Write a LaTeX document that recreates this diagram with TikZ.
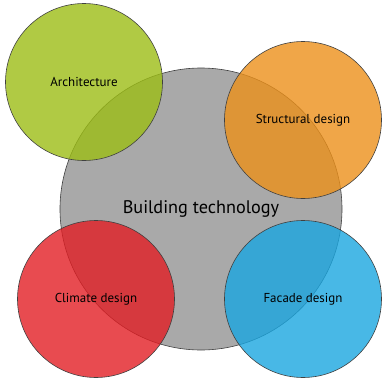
\documentclass[tikz,border=0pt]{standalone}
\usepackage{fontspec}
\setmainfont{PT Sans}
\definecolor{archgreen}{RGB}{156,189,21}
\definecolor{structorange}{RGB}{236,144,26}
\definecolor{climatered}{RGB}{226,30,36}
\definecolor{facadeblue}{RGB}{26,166,224}
\definecolor{hubgray}{RGB}{169,169,169}
\tikzstyle{hub}=[circle, draw=black!75, line width=0.6bp, fill=hubgray, inner sep=0pt, minimum size=282bp, font=\fontsize{18.3}{20}\selectfont]
\tikzstyle{topic}=[circle, draw=black!75, line width=0.6bp, fill opacity=0.8, text opacity=1, inner sep=0pt, minimum size=157bp, font=\fontsize{13}{15}\selectfont]
\newcommand{\topic}{\node[topic]}

\begin{document}
\begin{tikzpicture}[x=1bp,y=-1bp]
\useasboundingbox (0,0) rectangle (383,378);
\node[hub] (bt) at (201,209){Building technology};
\topic[fill=archgreen] (arch) at (84,82){Architecture};
\topic[fill=structorange] (struct) at (303,120){Structural design};
\topic[fill=climatered] (clim) at (96,299){Climate design};
\topic[fill=facadeblue] (fac) at (303,299){Facade design};
\end{tikzpicture}
\end{document}
